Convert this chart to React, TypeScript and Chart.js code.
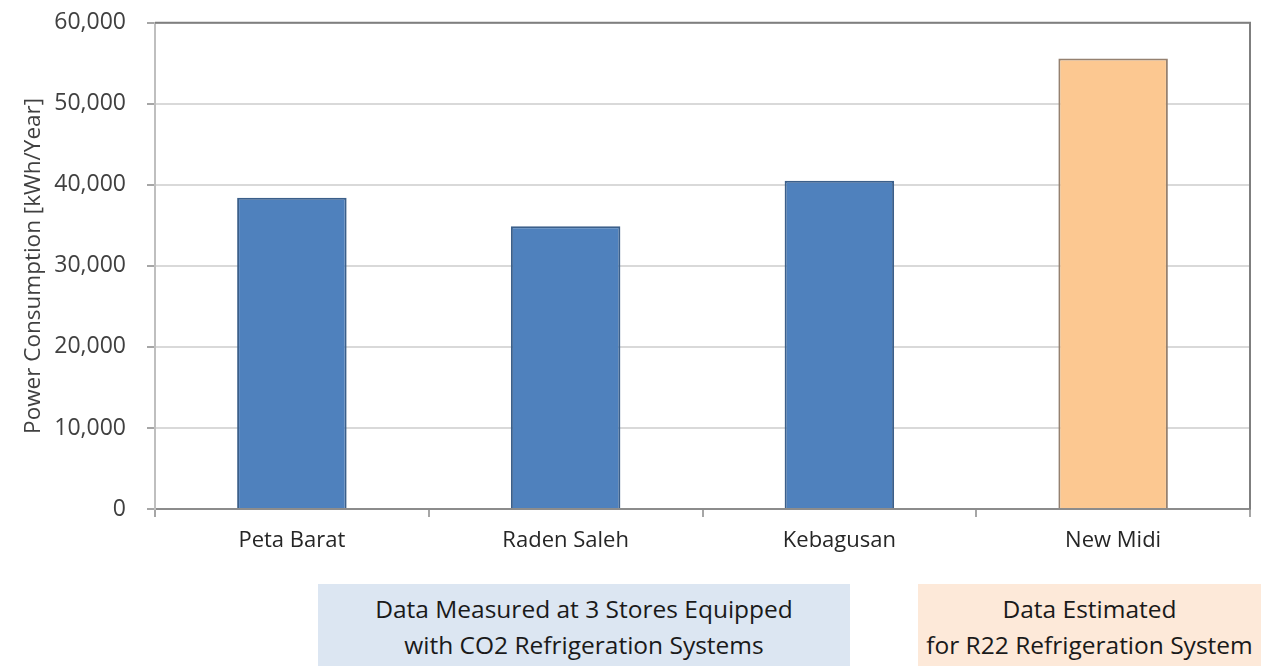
import React, { useEffect, useRef } from "react";
import { Chart, registerables } from "chart.js";

Chart.register(...registerables);

const categories = ["Peta Barat", "Raden Saleh", "Kebagusan", "New Midi"];
const powerValues = [38400, 34900, 40500, 55600];
const yTicks = [0, 10000, 20000, 30000, 40000, 50000, 60000];
const noteMeasured = ["Data Measured at 3 Stores Equipped", "with CO2 Refrigeration Systems"];
const noteEstimated = ["Data Estimated", "for R22 Refrigeration System"];

const FONT = "'Open Sans', 'Liberation Sans', sans-serif";

const framePlugin = {
  id: "frame",
  afterDraw(chart: any) {
    const { ctx, chartArea } = chart;
    ctx.save();
    ctx.strokeStyle = "#7f7f7f";
    ctx.lineWidth = 2;
    ctx.beginPath();
    ctx.moveTo(chartArea.left, chartArea.top);
    ctx.lineTo(chartArea.right, chartArea.top);
    ctx.lineTo(chartArea.right, chartArea.bottom);
    ctx.stroke();
    ctx.restore();
  },
};

export default function App() {
  const ref = useRef<HTMLCanvasElement>(null);
  useEffect(() => {
    const chart = new Chart(ref.current!, {
      type: "bar",
      data: {
        labels: categories,
        datasets: [
          {
            data: powerValues,
            backgroundColor: ["#4f81bd", "#4f81bd", "#4f81bd", "#fcc891"],
            borderColor: ["#3b5f8a", "#3b5f8a", "#3b5f8a", "#958170"],
            borderWidth: 2,
            categoryPercentage: 1,
            barPercentage: 0.4,
          },
        ],
      },
      options: {
        animation: false,
        responsive: false,
        maintainAspectRatio: false,
        layout: { padding: { left: 20, right: 11, top: 10, bottom: 0 } },
        plugins: { legend: { display: false }, tooltip: { enabled: false } },
        scales: {
          x: {
            grid: { display: true, drawOnChartArea: false, offset: true, tickLength: 8, color: "#a6a6a6", lineWidth: 2 },
            border: { color: "#8c8c8c", width: 2 },
            ticks: { color: "#262626", font: { family: FONT, size: 22 }, padding: 11 },
            afterFit(scale: any) {
              scale.height = 71;
            },
          },
          y: {
            min: 0,
            max: 60000,
            afterBuildTicks(scale: any) {
              scale.ticks = yTicks.map((v) => ({ value: v }));
            },
            grid: { color: "#d9d9d9", lineWidth: 2, tickLength: 8, tickColor: "#a6a6a6" },
            border: { color: "#bfbfbf", width: 2 },
            ticks: {
              color: "#404040",
              font: { family: FONT, size: 23 },
              padding: 21,
              callback: (v: any) => Number(v).toLocaleString("en-US"),
            },
            title: {
              display: true,
              text: "Power Consumption [kWh/Year]",
              color: "#404040",
              font: { family: FONT, size: 22.5 },
              padding: 0,
            },
            afterFit(scale: any) {
              scale.width = 135;
            },
          },
        },
      },
      plugins: [framePlugin],
    });
    return () => chart.destroy();
  }, []);

  const boxText: React.CSSProperties = {
    fontFamily: FONT,
    fontSize: 24.5,
    color: "#1a1a1a",
    lineHeight: "36px",
    textAlign: "center",
    paddingTop: 7,
    boxSizing: "border-box",
  };

  return (
    <div style={{ position: "fixed", left: 0, top: 0, width: 1261, height: 666, background: "#fff", overflow: "hidden" }}>
      <canvas ref={ref} width={1261} height={592} style={{ position: "absolute", left: 0, top: -12 }} />
      <div style={{ position: "absolute", left: 318, top: 584, width: 532, height: 82, background: "#dce6f2", ...boxText }}>
        {noteMeasured.map((t) => (
          <div key={t} style={{ whiteSpace: "nowrap" }}>{t}</div>
        ))}
      </div>
      <div style={{ position: "absolute", left: 918, top: 584, width: 343, height: 82, background: "#fde9d9", ...boxText }}>
        {noteEstimated.map((t) => (
          <div key={t} style={{ whiteSpace: "nowrap" }}>{t}</div>
        ))}
      </div>
    </div>
  );
}
